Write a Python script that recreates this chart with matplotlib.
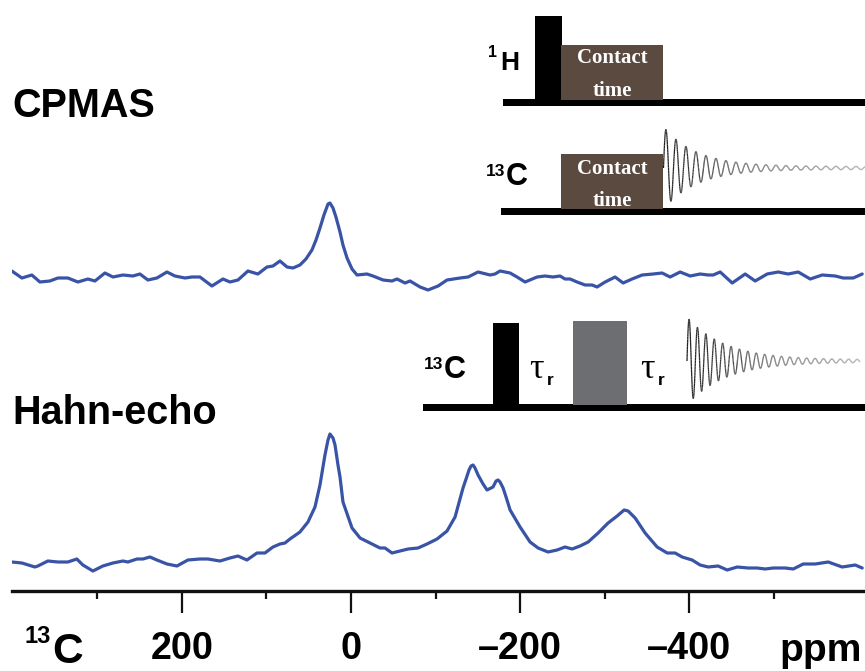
import numpy as np
import matplotlib
matplotlib.use("Agg")
import matplotlib.pyplot as plt
from matplotlib import font_manager as fm
from matplotlib.patches import Rectangle
from matplotlib.collections import LineCollection

# ---------------- data ----------------
cp_ppm = [401.2, 389.3, 377.5, 368.0, 356.2, 346.7, 334.9, 323.1, 311.2, 302.9,
          291.1, 281.6, 269.8, 258.0, 249.7, 240.2, 229.6, 217.7, 208.3, 196.4,
          188.2, 178.7, 164.5, 151.5, 143.2, 133.7, 121.9, 110.1, 99.4, 92.3,
          84.0, 75.7, 68.6, 60.4, 53.3, 46.2, 41.4, 36.7, 32.0, 27.2,
          24.9, 21.3, 17.8, 13.0, 9.5, 4.7, -1.2, -7.1, -18.9, -26.0,
          -37.9, -48.5, -54.4, -63.9, -69.8, -81.7, -91.1, -103.0, -113.6, -129.0,
          -138.5, -150.3, -164.5, -170.4, -176.3, -188.2, -196.4, -205.9, -220.1, -229.6,
          -239.0, -247.3, -253.2, -259.2, -267.4, -276.9, -285.2, -291.1, -300.6, -312.4,
          -321.9, -332.5, -344.4, -357.4, -368.0, -377.5, -389.3, -401.2, -413.0, -422.5,
          -428.4, -436.7, -450.9, -466.3, -478.1, -492.3, -505.3, -517.1, -529.0, -543.2,
          -557.4, -572.8, -582.2, -594.1, -604.7]
cp_int = [6, -1, 2, -5, -4, -1, -1, -5, -2, -4,
          4, 0, 2, 1, 3, -3, -1, 5, 1, -1,
          0, 0, -9, -2, -5, -3, 6, 3, 10, 11,
          16, 10, 9, 12, 18, 27, 37, 49, 62, 73,
          74, 69, 60, 45, 32, 19, 8, 2, 3, 1,
          -3, -4, -2, -6, -4, -10, -13, -9, -3, -1,
          0, 5, 2, 3, 6, 4, 0, -5, 0, 1,
          0, 1, -2, -2, -5, -8, -8, -10, -5, 0,
          -6, -2, 2, 3, 4, 0, 5, 1, 3, 2,
          2, 5, -6, 3, -4, 3, 5, 3, 5, -2,
          2, 1, -1, -1, 3]

he_ppm = [401.2, 389.3, 374.0, 370.4, 358.6, 346.7, 334.9, 324.3, 317.2, 305.3,
          293.5, 281.6, 269.8, 263.9, 253.2, 246.1, 237.9, 229.6, 217.7, 205.9,
          192.9, 178.7, 169.2, 155.0, 143.2, 133.7, 123.1, 111.2, 101.8, 92.3,
          84.0, 78.1, 72.2, 60.4, 50.9, 42.6, 36.7, 30.8, 27.2, 24.9,
          21.3, 18.9, 15.4, 13.0, 9.5, -1.2, -10.7, -22.5, -34.3, -40.2,
          -48.5, -58.0, -67.5, -79.3, -89.9, -101.8, -113.6, -123.1, -132.5, -136.1,
          -139.6, -142.0, -144.4, -146.7, -150.3, -156.2, -160.9, -168.0, -171.6, -174.0,
          -176.3, -179.9, -183.4, -188.2, -200.0, -211.8, -221.3, -233.1, -243.8, -253.2,
          -261.5, -271.0, -280.5, -292.3, -304.1, -314.8, -323.1, -327.8, -336.1, -347.9,
          -362.1, -374.0, -383.4, -391.7, -403.5, -413.0, -422.5, -434.3, -445.0, -456.8,
          -469.8, -480.5, -489.9, -499.4, -513.6, -523.1, -534.9, -549.1, -564.5, -581.0,
          -596.4, -604.7]
he_int = [3, 2, -2, -1, 4, 3, 3, 6, 0, -6,
          -1, 2, 4, 3, 6, 6, 8, 5, 1, -1,
          5, 6, 6, 4, 7, 9, 5, 12, 12, 18,
          21, 22, 26, 33, 43, 58, 80, 110, 125, 131,
          127, 120, 100, 88, 63, 37, 27, 22, 17, 17,
          12, 14, 16, 17, 21, 26, 34, 48, 77, 86,
          95, 99, 100, 97, 90, 81, 75, 78, 84, 85,
          83, 77, 68, 55, 38, 23, 17, 13, 15, 18,
          16, 19, 23, 32, 42, 49, 55, 54, 47, 32,
          18, 12, 12, 8, 5, 0, -2, -1, -5, -2,
          -3, -3, -4, -3, -3, -4, 1, 1, 3, -2,
          0, -3]

major_ticks = [200, 0, -200, -400]
major_labels = ["200", "0", "\u2013200", "\u2013400"]
minor_ticks = [300, 100, -100, -300, -500]
x_range = (401, -608)

# ---------------- fonts ----------------
names = {f.name for f in fm.fontManager.ttflist}
SANS = "Liberation Sans" if "Liberation Sans" in names else "DejaVu Sans"
SERIF = "Liberation Serif" if "Liberation Serif" in names else "DejaVu Serif"
if "Liberation Sans Narrow" in names:
    NARROW, nscale = "Liberation Sans Narrow", 1.0
else:
    NARROW, nscale = SANS, 0.85

W, H = 865, 671
BLUE = "#3953a6"
BROWN = "#5b4a40"
GRAY = "#6d6e71"

fig = plt.figure(figsize=(W / 100, H / 100), dpi=100, facecolor="white")

# ---------------- spectra axes ----------------
ax = fig.add_axes([12 / W, (H - 591) / H, (W - 12) / W, 591 / H])
ax.set_facecolor("none")
ax.set_xlim(*x_range)
ax.set_ylim(0, 591)
cp_offset, he_offset = 314, 26
ax.plot(cp_ppm, np.array(cp_int) + cp_offset, color=BLUE, lw=2.3,
        solid_joinstyle="round", solid_capstyle="round")
ax.plot(he_ppm, np.array(he_int) + he_offset, color=BLUE, lw=2.3,
        solid_joinstyle="round", solid_capstyle="round")
for s in ["left", "right", "top"]:
    ax.spines[s].set_visible(False)
ax.spines["bottom"].set_linewidth(2.4)
ax.spines["bottom"].set_color("#111111")
ax.set_yticks([])
ax.set_xticks(major_ticks)
ax.set_xticks(minor_ticks, minor=True)
ax.set_xticklabels(major_labels, fontsize=32 * nscale, fontweight="bold",
                   family=NARROW)
ax.tick_params(axis="x", which="major", length=15.5, width=1.6, pad=13,
               direction="out", color="#111111")
ax.tick_params(axis="x", which="minor", length=5.5, width=1.6,
               direction="out", color="#111111")

# ---------------- overlay (labels, pulse sequences) ----------------
ov = fig.add_axes([0, 0, 1, 1])
ov.set_xlim(0, W)
ov.set_ylim(H, 0)
ov.axis("off")


def rect(x0, y0, x1, y1, color):
    ov.add_patch(Rectangle((x0, y0), x1 - x0, y1 - y0, facecolor=color,
                           edgecolor="none"))


def fid(x0, x1, yc, amp, tau, floor, period):
    x = np.linspace(x0, x1, 1500)
    t = x - x0
    y = yc - (amp * np.exp(-t / tau) + floor) * np.sin(2 * np.pi * t / period)
    pts = np.column_stack([x, y]).reshape(-1, 1, 2)
    segs = np.concatenate([pts[:-1], pts[1:]], axis=1)
    frac = (t[:-1] / (x1 - x0))
    g = 0.12 + 0.5 * frac
    cols = np.column_stack([g, g, g, np.ones_like(g)])
    ov.add_collection(LineCollection(segs, colors=cols, linewidths=0.9))


# titles
ov.text(12, 117, "CPMAS", fontsize=28.5, fontweight="bold", family=SANS,
        ha="left", va="baseline")
ov.text(12, 424, "Hahn-echo", fontsize=28.5, fontweight="bold", family=SANS,
        ha="left", va="baseline")

# --- CP sequence: 1H channel
rect(503, 99, 865, 106, "black")
rect(535, 16, 562, 100, "black")
rect(561, 45, 663, 100, BROWN)
ov.text(612, 63, "Contact", color="white", fontsize=15, fontweight="bold",
        family=SERIF, ha="center", va="baseline")
ov.text(612, 96, "time", color="white", fontsize=15, fontweight="bold",
        family=SERIF, ha="center", va="baseline")
ov.text(519, 70, "H", fontsize=19, fontweight="bold", family=SANS,
        ha="right", va="baseline")
ov.text(497, 57, "1", fontsize=11.5, fontweight="bold", family=SANS,
        ha="right", va="baseline")

# --- CP sequence: 13C channel
rect(501, 208, 865, 215, "black")
rect(561, 154, 663, 209, BROWN)
ov.text(612, 174, "Contact", color="white", fontsize=15, fontweight="bold",
        family=SERIF, ha="center", va="baseline")
ov.text(612, 206, "time", color="white", fontsize=15, fontweight="bold",
        family=SERIF, ha="center", va="baseline")
ov.text(528, 185, "C", fontsize=22, fontweight="bold", family=SANS,
        ha="right", va="baseline")
ov.text(505, 176, "13", fontsize=12.5, fontweight="bold", family=SANS,
        ha="right", va="baseline")
fid(663.5, 865, 168, 40, 33, 1.5, 10.0)

# --- Hahn-echo sequence
rect(423, 404, 865, 411, "black")
rect(493, 323, 519, 405, "black")
rect(573, 321, 627, 405, GRAY)
ov.text(466, 378, "C", fontsize=22, fontweight="bold", family=SANS,
        ha="right", va="baseline")
ov.text(443, 369, "13", fontsize=12.5, fontweight="bold", family=SANS,
        ha="right", va="baseline")
for tx in (529, 640):
    ov.text(tx, 378, "\u03c4", fontsize=26, family=SERIF, ha="left",
            va="baseline")
    ov.text(tx + 18, 385, "r", fontsize=12.5, fontweight="bold", family=SANS,
            ha="left", va="baseline")
fid(687, 860, 361, 43, 38, 1.2, 8.4)

# --- axis labels
ov.text(51, 643, "13", fontsize=17, fontweight="bold", family=SANS,
        ha="right", va="baseline")
ov.text(52, 663, "C", fontsize=36 * nscale, fontweight="bold", family=NARROW,
        ha="left", va="baseline")
ov.text(862, 661, "ppm", fontsize=33 * nscale, fontweight="bold",
        family=NARROW, ha="right", va="baseline")

fig.savefig("out.png", dpi=100, facecolor="white")
